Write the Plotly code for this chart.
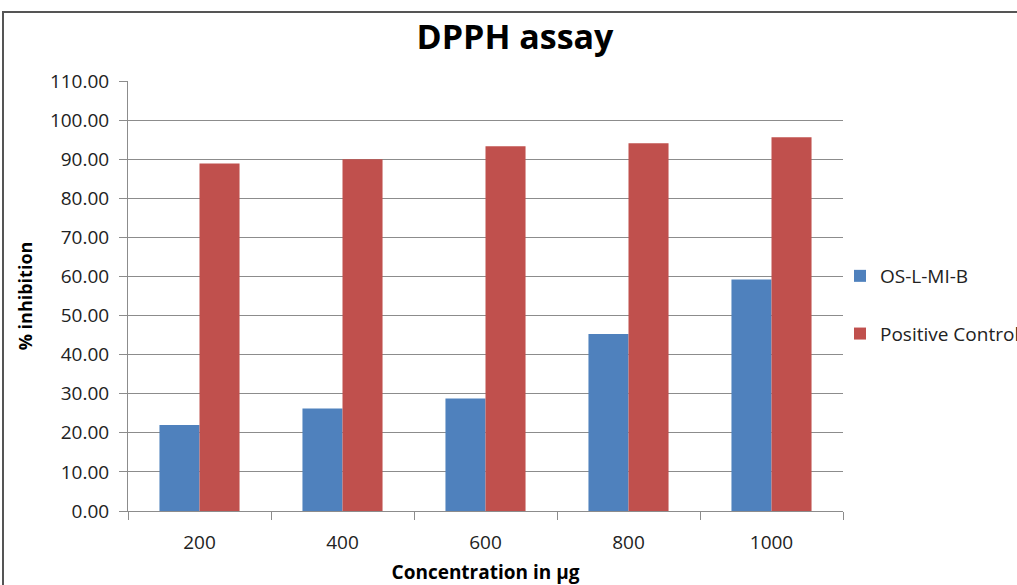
import plotly.graph_objects as go

categories = ["200", "400", "600", "800", "1000"]
os_l_mi_b = [22.0, 26.2, 28.8, 45.3, 59.2]
positive_control = [88.9, 90.0, 93.3, 94.1, 95.6]
y_ticks = [0, 10, 20, 30, 40, 50, 60, 70, 80, 90, 100, 110]

FONT = "Open Sans"
fig = go.Figure()
fig.add_trace(go.Bar(x=categories, y=os_l_mi_b, name="OS-L-MI-B",
                     marker=dict(color="#4F81BD", line=dict(width=0)), legendgroup="a"))
fig.add_trace(go.Bar(x=categories, y=positive_control, name="Positive Control",
                     marker=dict(color="#C0504D", line=dict(width=0)), legendgroup="b"))

L, R, T, B = 128, 1017 - 843, 81, 585 - 511
pw, ph = 1017 - L - R, 585 - T - B

fig.update_layout(
    width=1017, height=585,
    margin=dict(l=L, r=R, t=T, b=B, autoexpand=False),
    paper_bgcolor="white", plot_bgcolor="white",
    barmode="group", bargap=0.44, bargroupgap=0,
    font=dict(family=FONT, size=19, color="#222"),
    title=dict(text="<b>DPPH assay</b>", x=(515 - L) / pw, xref="paper", xanchor="center",
               y=1 - 37 / 585, yanchor="middle", font=dict(size=34, color="black", family=FONT)),
    legend=dict(x=(840 - L) / pw, y=(511 - 305) / ph, xanchor="left", yanchor="middle",
                font=dict(size=19, color="#222"), tracegroupgap=30, traceorder="grouped",
                bgcolor="rgba(0,0,0,0)", itemwidth=30),
    showlegend=True,
)
fig.update_yaxes(range=[0, 110], tickvals=y_ticks, tickformat=".2f",
                 showgrid=True, gridcolor="#8c8c8c", gridwidth=1,
                 showline=True, linecolor="#8c8c8c", linewidth=1,
                 ticks="outside", ticklen=8, tickcolor="#8c8c8c",
                 ticklabelstandoff=6,
                 zeroline=False,
                 title=dict(text="<b>% inhibition</b>", font=dict(size=18, color="black"), standoff=12))
fig.update_xaxes(type="category", showline=True, linecolor="#8c8c8c", linewidth=1,
                 ticks="outside", tickson="boundaries", ticklen=8, tickcolor="#8c8c8c",
                 ticklabelstandoff=14,
                 showgrid=False,
                 title=dict(text="<b>Concentration in µg</b>", font=dict(size=19, color="black"), standoff=14))
# outer chart border
fig.add_shape(type="rect", xref="paper", yref="paper",
              x0=(3 - L) / pw, x1=(1030 - L) / pw, y0=(511 - 600) / ph, y1=(511 - 12) / ph,
              line=dict(color="#555", width=2), fillcolor="rgba(0,0,0,0)", layer="above")
fig.write_html("out.html")
